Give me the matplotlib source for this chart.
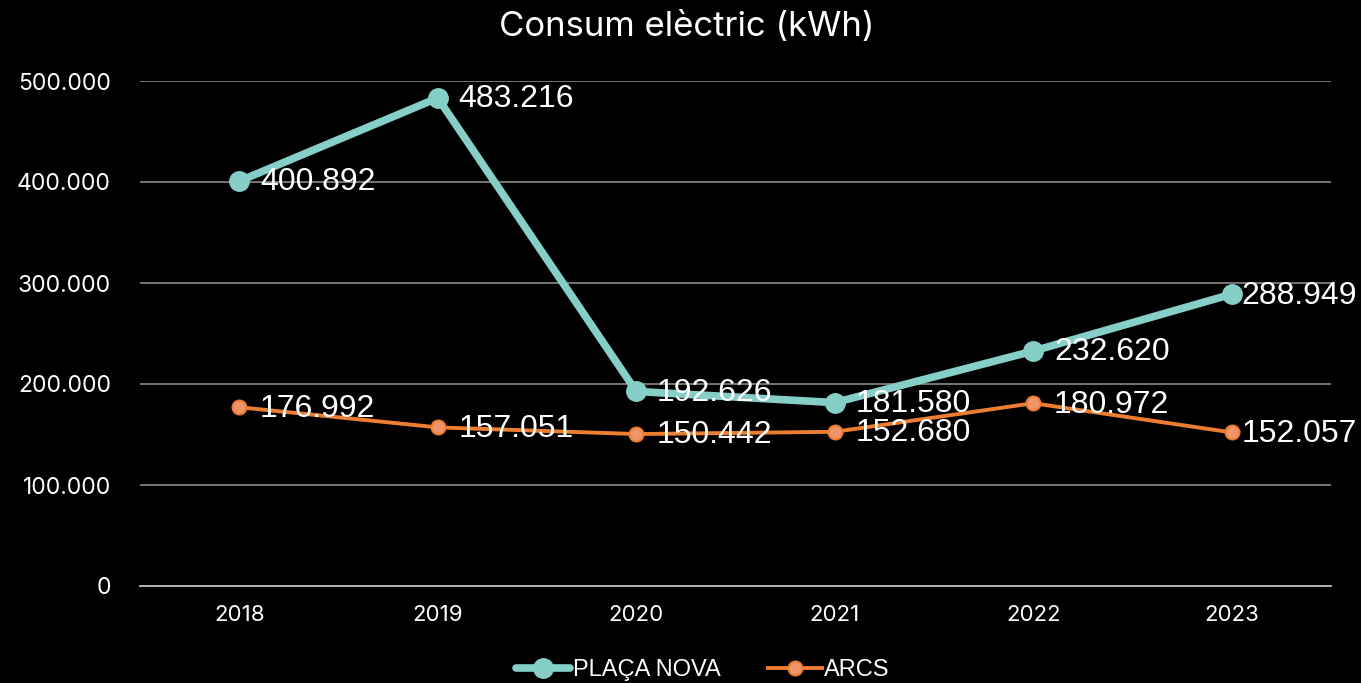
import matplotlib
matplotlib.use("Agg")
import matplotlib.pyplot as plt
from matplotlib.ticker import FuncFormatter

years = ["2018", "2019", "2020", "2021", "2022", "2023"]
placa_nova = [400892, 483216, 192626, 181580, 232620, 288949]
arcs = [176992, 157051, 150442, 152680, 180972, 152057]
yticks = [0, 100000, 200000, 300000, 400000, 500000]

def fmt(v):
    return f"{int(v):,}".replace(",", ".")

W, H = 1361, 683
fig = plt.figure(figsize=(W / 100, H / 100), dpi=100, facecolor="black")
ax = fig.add_axes([140 / W, (H - 586) / H, (1331 - 140) / W, (586 - 81) / H], facecolor="black")

x = list(range(len(years)))
teal = "#86CFC8"
orange = "#ED7D31"
ax.plot(x, placa_nova, color=teal, lw=5.5, marker="o", ms=14, mfc=teal, mec=teal,
        label="PLAÇA NOVA", clip_on=False, zorder=4, solid_capstyle="round")
ax.plot(x, arcs, color=orange, lw=2.8, marker="o", ms=10, mfc="#F0956A", mec=orange, mew=1.5,
        label="ARCS", clip_on=False, zorder=3)

for series in (placa_nova, arcs):
    for xi, v in zip(x, series):
        off = 7 if xi == len(x) - 1 else 15
        ax.annotate(fmt(v), (xi, v), xytext=(off, -1), textcoords="offset points",
                    ha="left", va="center", color="white", fontsize=23,
                    family="Liberation Sans", zorder=6)

ax.set_xlim(-0.5, len(years) - 0.5)
ax.set_ylim(0, 500000)
ax.set_xticks(x)
ax.set_xticklabels(years)
ax.set_yticks(yticks)
ax.yaxis.set_major_formatter(FuncFormatter(lambda v, p: fmt(v)))
ax.tick_params(axis="both", length=0, colors="white", labelsize=16.5)
ax.tick_params(axis="x", labelsize=16, pad=14)
ax.tick_params(axis="y", pad=21)
for lab in ax.get_xticklabels() + ax.get_yticklabels():
    lab.set_family("Inter")
ax.grid(axis="y", color="#7f7f7f", lw=1.3)
ax.set_axisbelow(True)
for s in ["top", "right", "left"]:
    ax.spines[s].set_visible(False)
ax.spines["bottom"].set_color("#bfbfbf")
ax.spines["bottom"].set_linewidth(1.3)

fig.text(687 / W, 1 - 27 / H, "Consum elèctric (kWh)", ha="center", va="center",
         color="white", fontsize=25, family="Inter")

leg = fig.legend(loc="center", bbox_to_anchor=(703 / W, 1 - 670 / H), ncol=2, frameon=False,
                 handlelength=2.3, columnspacing=2.0, handletextpad=0.1,
                 prop={"family": "Liberation Sans", "size": 17})
for t in leg.get_texts():
    t.set_color("white")

fig.savefig("out.png", dpi=100, facecolor="black")
